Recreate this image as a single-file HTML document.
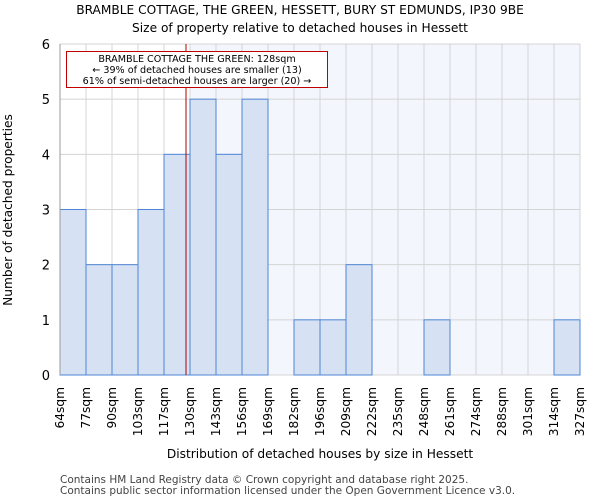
<!DOCTYPE html>
<html><head><meta charset="utf-8"><style>
body{margin:0;background:#fff;font-family:"DejaVu Sans","Liberation Sans",sans-serif}
text{font-family:"DejaVu Sans","Liberation Sans",sans-serif}
</style></head><body>
<svg id="chart" width="600" height="500" xmlns="http://www.w3.org/2000/svg">
<text x="300" y="14" text-anchor="middle" font-size="12.2">BRAMBLE COTTAGE, THE GREEN, HESSETT, BURY ST EDMUNDS, IP30 9BE</text>
<text x="300" y="32" text-anchor="middle" font-size="12.2">Size of property relative to detached houses in Hessett</text>
<g id="plot"></g>
<text x="320" y="458" text-anchor="middle" font-size="12.2">Distribution of detached houses by size in Hessett</text>
<text transform="translate(12,210) rotate(-90)" text-anchor="middle" font-size="12.2">Number of detached properties</text>
<text x="60" y="483" font-size="10.5" fill="#444">Contains HM Land Registry data © Crown copyright and database right 2025.</text>
<text x="60" y="494" font-size="10.5" fill="#444">Contains public sector information licensed under the Open Government Licence v3.0.</text>
</svg>
<script>
const binLabels=["64sqm","77sqm","90sqm","103sqm","117sqm","130sqm","143sqm","156sqm","169sqm","182sqm","196sqm","209sqm","222sqm","235sqm","248sqm","261sqm","274sqm","288sqm","301sqm","314sqm","327sqm"];
const binEdges=[64,77,90,103,117,130,143,156,169,182,196,209,222,235,248,261,274,288,301,314,327];
const counts=[3,2,2,3,4,5,4,5,0,1,1,2,0,0,1,0,0,0,0,1];
const yTicks=[0,1,2,3,4,5,6];
const subjectSize=128;
const X0=60,X1=580,Y0=375,Y1=44,YMAX=6;
const n=counts.length;
function xIdx(i){return X0+i*(X1-X0)/n;}
function xVal(v){for(let i=0;i<binEdges.length-1;i++){if(v<=binEdges[i+1])return xIdx(i)+(v-binEdges[i])/(binEdges[i+1]-binEdges[i])*(X1-X0)/n;}return X1;}
function y(v){return Y0-(v/YMAX)*(Y0-Y1);}
const NS="http://www.w3.org/2000/svg";
const g=document.getElementById('plot');
function mk(t,a){const e=document.createElementNS(NS,t);for(const k in a)e.setAttribute(k,a[k]);g.appendChild(e);return e;}
let si=0;while(si<n&&binEdges[si+1]<=subjectSize)si++;
const shadeX=xIdx(si+1);
let r=mk('rect',{x:shadeX,y:Y1,width:X1-shadeX,height:Y0-Y1,fill:'#f3f6fc'});


for(let i=0;i<=n;i++){let l=mk('line',{x1:xIdx(i),x2:xIdx(i),y1:Y1,y2:Y0,stroke:'#d4d4d4','stroke-width':1});

}
yTicks.forEach(t=>{let l=mk('line',{x1:X0,x2:X1,y1:y(t),y2:y(t),stroke:'#d4d4d4','stroke-width':1});


let tx=mk('text',{x:X0-10,y:y(t)+5,'text-anchor':'end','font-size':13});tx.textContent=t;

});
counts.forEach((c,i)=>{if(c<=0)return;let b=mk('rect',{x:xIdx(i),y:y(c),width:(X1-X0)/n,height:Y0-y(c),fill:'#d6e2f4',stroke:'#4f86d6','stroke-width':1});

});
binLabels.forEach((s,i)=>{let tx=mk('text',{transform:`translate(${xIdx(i)+4},${Y0+12}) rotate(-90)`,'text-anchor':'end','font-size':12.2});tx.textContent=s;

});
const sx=xVal(subjectSize);
let rl=mk('line',{x1:sx,x2:sx,y1:Y1,y2:Y0,stroke:'#b00000','stroke-width':1});


let box=mk('rect',{x:66.5,y:51.5,width:261,height:36,fill:'#fff',stroke:'#c00000','stroke-width':1});


["BRAMBLE COTTAGE THE GREEN: 128sqm","← 39% of detached houses are smaller (13)","61% of semi-detached houses are larger (20) →"].forEach((s,i)=>{let tx=mk('text',{x:197,y:62+i*11,'text-anchor':'middle','font-size':9.6});tx.textContent=s;

});
let ax=mk('line',{x1:X0,x2:X0,y1:Y1,y2:Y0,stroke:'#999'});


</script>
</body></html>
